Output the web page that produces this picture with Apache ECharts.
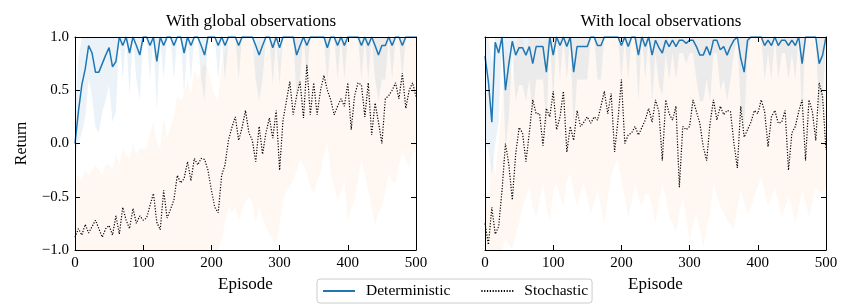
<!DOCTYPE html>
<html><head><meta charset="utf-8">
<script src="https://cdn.jsdelivr.net/npm/echarts@6/dist/echarts.min.js"></script>
<style>html,body{margin:0;padding:0;background:#fff}#c{width:852px;height:308px}</style>
</head><body><div id="c"></div>
<script>
// ---- data ----
const EPISODES = Array.from({length: 101}, (_, i) => i * 5);
const X_TICKS = [0, 100, 200, 300, 400, 500];
const X_TICK_LABELS = ['0', '100', '200', '300', '400', '500'];
const Y_TICKS = [-1, -0.5, 0, 0.5, 1];
const Y_TICK_LABELS = ['\u22121.0', '\u22120.5', '0.0', '0.5', '1.0'];
const TITLES = ['With global observations', 'With local observations'];
const SERIES_NAMES = ['Deterministic', 'Stochastic'];

// Left panel (global observations)
const GLOBAL_DET = [
  0.0, 0.3, 0.55, 0.7, 0.92, 0.85, 0.67, 0.67, 0.75, 0.83, 0.9, 0.72, 0.77, 1.0, 0.92, 1.0, 0.85, 1.0, 0.92, 0.83,
  1.0, 1.0, 0.92, 1.0, 0.77, 1.0, 0.92, 1.0, 1.0, 0.92, 1.0, 1.0, 0.85, 1.0, 0.92, 1.0, 1.0, 0.92, 0.83, 1.0,
  1.0, 1.0, 0.92, 1.0, 0.92, 1.0, 1.0, 1.0, 0.92, 1.0, 1.0, 1.0, 1.0, 0.92, 0.83, 0.92, 1.0, 1.0, 0.9, 1.0,
  0.9, 1.0, 1.0, 1.0, 1.0, 0.83, 0.92, 1.0, 0.92, 1.0, 1.0, 1.0, 1.0, 1.0, 0.9, 1.0, 1.0, 0.92, 1.0, 0.92,
  1.0, 1.0, 1.0, 1.0, 0.92, 1.0, 0.92, 1.0, 0.92, 0.83, 0.92, 0.92, 1.0, 0.92, 1.0, 1.0, 0.92, 1.0, 1.0, 1.0, 1.0
];
const GLOBAL_DET_LO = [
  -0.1, 0.0, 0.1, 0.25, 0.6, 0.45, 0.15, 0.1, 0.3, 0.4, 0.55, 0.2, 0.3, 1, 0.6, 1, 0.45, 1, 0.6, 0.4,
  1, 1, 0.6, 1, 0.3, 1, 0.6, 1, 1, 0.6, 1, 1, 0.45, 1, 0.6, 1, 1, 0.6, 0.4, 1,
  1, 1, 0.6, 1, 0.6, 1, 1, 1, 0.6, 1, 1, 1, 1, 0.6, 0.4, 0.6, 1, 1, 0.55, 1,
  0.55, 1, 1, 1, 1, 0.4, 0.6, 1, 0.6, 1, 1, 1, 1, 1, 0.55, 1, 1, 0.6, 1, 0.6,
  1, 1, 1, 1, 0.6, 1, 0.6, 1, 0.6, 0.4, 0.6, 0.6, 1, 0.6, 1, 1, 0.6, 1, 1, 1, 1
];
const GLOBAL_DET_HI = [
  0.3, 0.8, 1, 1, 1, 1, 1, 1, 1, 1, 1, 1, 1, 1, 1, 1, 1, 1, 1, 1,
  1, 1, 1, 1, 1, 1, 1, 1, 1, 1, 1, 1, 1, 1, 1, 1, 1, 1, 1, 1,
  1, 1, 1, 1, 1, 1, 1, 1, 1, 1, 1, 1, 1, 1, 1, 1, 1, 1, 1, 1,
  1, 1, 1, 1, 1, 1, 1, 1, 1, 1, 1, 1, 1, 1, 1, 1, 1, 1, 1, 1,
  1, 1, 1, 1, 1, 1, 1, 1, 1, 1, 1, 1, 1, 1, 1, 1, 1, 1, 1, 1, 1
];
const GLOBAL_STO = [
  -0.88, -0.8, -0.86, -0.76, -0.84, -0.78, -0.72, -0.8, -0.88, -0.8, -0.77, -0.86, -0.68, -0.85, -0.6, -0.72, -0.8, -0.61, -0.75, -0.68,
  -0.72, -0.7, -0.58, -0.47, -0.74, -0.81, -0.44, -0.7, -0.62, -0.53, -0.3, -0.37, -0.33, -0.17, -0.35, -0.14, -0.2, -0.14, -0.15, -0.25,
  -0.44, -0.6, -0.65, -0.3, -0.2, 0.03, 0.15, 0.25, 0.03, 0.15, 0.31, 0.1, 0.03, -0.17, 0.16, -0.1, 0.1, 0.24, 0.05, 0.31,
  -0.25, 0.22, 0.4, 0.58, 0.27, 0.45, 0.58, 0.24, 0.74, 0.27, 0.57, 0.27, 0.5, 0.64, 0.5, 0.41, 0.27, 0.35, 0.42, 0.35,
  0.57, 0.13, 0.45, 0.57, 0.55, 0.25, 0.57, 0.08, 0.38, 0.2, 0.0, 0.42, 0.45, 0.5, 0.57, 0.42, 0.66, 0.33, 0.5, 0.57, 0.44
];
const GLOBAL_STO_LO = [
  -1, -1, -1, -1, -1, -1, -1, -1, -1, -1, -1, -1, -1, -1, -1, -1, -1, -1, -1, -1,
  -1, -1, -1, -1, -1, -1, -1, -1, -1, -1, -1, -1, -1, -1, -1, -1, -1, -1, -1, -1,
  -1, -1, -1, -0.9, -0.75, -0.59, -0.65, -0.6, -0.72, -0.62, -0.55, -0.5, -0.55, -0.75, -0.59, -0.7, -0.78, -0.85, -0.9, -0.97,
  -0.75, -0.53, -0.45, -0.4, -0.34, -0.25, -0.15, -0.2, -0.28, -0.4, -0.47, -0.35, -0.28, -0.1, 0.0, -0.28, -0.4, -0.53, -0.45, -0.34,
  -0.72, -0.6, -0.53, -0.35, -0.15, -0.3, -0.44, -0.6, -0.78, -0.65, -0.59, -0.45, -0.28, -0.35, -0.37, -0.2, -0.09, -0.15, -0.22, -0.1, -0.06
];
const GLOBAL_STO_HI = [
  -0.35, -0.3, -0.35, -0.25, -0.3, -0.25, -0.2, -0.25, -0.3, -0.2, -0.2, -0.25, -0.1, -0.2, -0.05, -0.1, -0.15, 0.0, -0.1, -0.05,
  -0.05, -0.05, 0.1, 0.2, 0.0, -0.05, 0.25, 0.05, 0.15, 0.25, 0.45, 0.4, 0.45, 0.6, 0.45, 0.7, 0.6, 0.7, 0.75, 0.7,
  0.55, 0.45, 0.4, 0.75, 0.85, 1, 1, 1, 0.95, 1, 1, 1, 0.95, 0.8, 1, 0.85, 1, 1, 0.95, 1,
  0.8, 1, 1, 1, 1, 1, 1, 1, 1, 1, 1, 1, 1, 1, 1, 1, 1, 1, 1, 1,
  1, 1, 1, 1, 1, 1, 1, 1, 1, 1, 1, 1, 1, 1, 1, 1, 1, 1, 1, 1, 1
];

// Right panel (local observations)
const LOCAL_DET = [
  0.82, 0.58, 0.2, 0.95, 0.85, 1.0, 0.5, 0.75, 0.96, 0.83, 0.9, 0.9, 0.83, 0.91, 0.75, 0.91, 0.91, 0.91, 0.67, 1.0,
  0.83, 1.0, 0.92, 1.0, 0.91, 1.0, 0.67, 0.91, 0.91, 0.91, 0.91, 1.0, 1.0, 0.92, 0.92, 1.0, 1.0, 1.0, 1.0, 1.0,
  0.92, 1.0, 0.91, 1.0, 1.0, 0.83, 1.0, 0.91, 1.0, 0.83, 0.97, 0.9, 0.85, 0.97, 0.91, 0.97, 0.91, 0.97, 0.97, 0.94,
  0.97, 0.97, 0.91, 0.83, 0.83, 0.91, 0.83, 0.97, 0.97, 0.88, 0.91, 0.83, 0.91, 0.97, 1.0, 0.8, 0.67, 0.97, 1.0, 1.0,
  1.0, 1.0, 0.92, 0.97, 0.92, 1.0, 0.92, 0.97, 0.97, 0.92, 0.97, 0.92, 1.0, 0.75, 1.0, 1.0, 1.0, 1.0, 0.75, 0.83, 1.0
];
const LOCAL_DET_LO = [
  0.0, -0.05, -0.3, 0.0, 0.2, 1, -0.05, 0.25, 0.85, 0.4, 0.55, 0.55, 0.4, 0.6, 0.25, 0.6, 0.6, 0.6, 0.15, 1,
  0.4, 1, 0.6, 1, 0.6, 1, 0.15, 0.6, 0.6, 0.6, 0.6, 1, 1, 0.6, 0.6, 1, 1, 1, 1, 1,
  0.6, 1, 0.6, 1, 1, 0.4, 1, 0.6, 1, 0.4, 0.85, 0.55, 0.45, 0.85, 0.6, 0.85, 0.6, 0.85, 0.85, 0.75,
  0.85, 0.85, 0.6, 0.4, 0.4, 0.6, 0.4, 0.85, 0.85, 0.5, 0.6, 0.4, 0.6, 0.85, 1, 0.35, 0.15, 0.85, 1, 1,
  1, 1, 0.6, 0.85, 0.6, 1, 0.6, 0.85, 0.85, 0.6, 0.85, 0.6, 1, 0.25, 1, 1, 1, 1, 0.25, 0.4, 1
];
const LOCAL_DET_HI = [
  1, 1, 0.75, 1, 1, 1, 1, 1, 1, 1, 1, 1, 1, 1, 1, 1, 1, 1, 1, 1,
  1, 1, 1, 1, 1, 1, 1, 1, 1, 1, 1, 1, 1, 1, 1, 1, 1, 1, 1, 1,
  1, 1, 1, 1, 1, 1, 1, 1, 1, 1, 1, 1, 1, 1, 1, 1, 1, 1, 1, 1,
  1, 1, 1, 1, 1, 1, 1, 1, 1, 1, 1, 1, 1, 1, 1, 1, 1, 1, 1, 1,
  1, 1, 1, 1, 1, 1, 1, 1, 1, 1, 1, 1, 1, 1, 1, 1, 1, 1, 1, 1, 1
];
const LOCAL_STO = [
  -0.75, -0.95, -0.6, -0.85, -0.78, -0.44, 0.0, -0.2, -0.53, -0.1, 0.15, 0.1, -0.17, 0.1, 0.41, 0.28, 0.28, -0.02, 0.33, 0.25,
  0.49, 0.13, 0.25, 0.49, -0.08, 0.16, 0.03, 0.31, 0.16, 0.2, 0.25, 0.19, 0.25, 0.22, 0.35, 0.49, 0.28, 0.47, -0.08, 0.22,
  0.6, 0.0, 0.08, 0.1, 0.16, 0.08, 0.15, 0.22, 0.33, 0.2, 0.41, 0.3, -0.16, 0.41, 0.28, 0.22, 0.35, -0.41, 0.16, 0.13,
  0.16, 0.41, 0.3, 0.19, -0.03, -0.16, 0.19, 0.41, 0.22, 0.35, 0.27, 0.31, 0.3, 0.0, -0.23, 0.35, 0.06, 0.13, 0.2, 0.31,
  0.28, 0.41, 0.3, -0.03, 0.25, 0.31, 0.19, 0.2, 0.31, -0.25, 0.1, 0.16, 0.3, 0.41, -0.16, 0.41, 0.3, 0.03, 0.57, 0.44, -0.06
];
const LOCAL_STO_LO = [
  -1, -1, -1, -1, -1, -1, -0.9, -0.95, -1, -0.85, -0.75, -0.6, -0.5, -0.4, -0.6, -0.69, -0.55, -0.37, -0.6, -0.72,
  -0.45, -0.37, -0.5, -0.59, -0.35, -0.28, -0.45, -0.59, -0.45, -0.37, -0.5, -0.66, -0.55, -0.44, -0.6, -0.75, -0.5, -0.31, -0.2, -0.16,
  -0.35, -0.5, -0.69, -0.55, -0.37, -0.5, -0.59, -0.47, -0.47, -0.6, -0.75, -0.55, -0.37, -0.5, -0.69, -0.75, -0.84, -0.65, -0.5, -0.7,
  -0.91, -0.75, -0.66, -0.8, -0.97, -0.8, -0.66, -0.37, -0.5, -0.59, -0.65, -0.72, -0.76, -0.81, -0.6, -0.44, -0.55, -0.66, -0.6, -0.5,
  -0.4, -0.31, -0.45, -0.59, -0.5, -0.41, -0.55, -0.69, -0.6, -0.5, -0.6, -0.75, -0.6, -0.44, -0.55, -0.69, -0.55, -0.41, -0.45, -0.47, -0.4
];
const LOCAL_STO_HI = [
  -0.4, -0.6, -0.1, -0.3, 0.0, 0.4, 0.9, 0.8, 0.6, 0.9, 1, 1, 0.85, 1, 1, 1, 1, 0.95, 1, 1,
  1, 1, 1, 1, 1, 1, 1, 1, 1, 1, 1, 1, 1, 1, 1, 1, 1, 1, 1, 1,
  1, 1, 1, 1, 1, 1, 1, 1, 1, 1, 1, 1, 1, 1, 1, 1, 1, 1, 1, 1,
  1, 1, 1, 1, 1, 1, 1, 1, 1, 1, 1, 1, 1, 1, 1, 1, 1, 1, 1, 1,
  1, 1, 1, 1, 1, 1, 1, 1, 1, 1, 1, 1, 1, 1, 1, 1, 1, 1, 1, 1, 1
];

// ---- chart ----
const FONT = 'Liberation Serif';
const BLUE = '#1f77b4';
const BLUE_BAND = 'rgba(31,119,180,0.09)';
const ORANGE_BAND = 'rgba(255,127,14,0.06)';

const chart = echarts.init(document.getElementById('c'), null, {renderer: 'canvas'});

const tick = {show: true, inside: true, length: 5, lineStyle: {color: '#000', width: 1}};
const axLine = {show: true, onZero: false, lineStyle: {color: '#000', width: 1}};

function xAx(grid, pos, showLabel) {
  return {
    type: 'value', gridIndex: grid, position: pos, min: 0, max: 500, interval: 100,
    axisLine: axLine, axisTick: tick, splitLine: {show: false},
    axisLabel: {show: showLabel, color: '#000', fontFamily: FONT, fontSize: 15, margin: 6,
      formatter: v => { const k = X_TICKS.indexOf(v); return k >= 0 ? X_TICK_LABELS[k] : ''; }},
    name: showLabel ? 'Episode' : '', nameLocation: 'middle', nameGap: 26,
    nameTextStyle: {color: '#000', fontFamily: FONT, fontSize: 17},
    z: 5
  };
}
function yAx(grid, pos, showLabel, name) {
  return {
    type: 'value', gridIndex: grid, position: pos, min: -1, max: 1, interval: 0.5,
    axisLine: axLine, axisTick: tick, splitLine: {show: false},
    axisLabel: {show: showLabel, color: '#000', fontFamily: FONT, fontSize: 15, margin: 6,
      formatter: v => { const k = Y_TICKS.findIndex(t => Math.abs(t - v) < 1e-9); return k >= 0 ? Y_TICK_LABELS[k] : ''; }},
    name: name || '', nameLocation: 'middle', nameGap: 45, nameRotate: 90,
    nameTextStyle: {color: '#000', fontFamily: FONT, fontSize: 16},
    z: 5
  };
}

function band(axIdx, lo, hi, color, z) {
  return {
    type: 'custom', xAxisIndex: axIdx, yAxisIndex: axIdx, silent: true, clip: true, z: z,
    data: EPISODES.map((x, i) => [x, lo[i], hi[i]]),
    encode: {x: 0, y: [1, 2]},
    renderItem: function (params, api) {
      if (params.dataIndex !== 0) return null;
      const pts = [];
      for (let i = 0; i < EPISODES.length; i++) pts.push(api.coord([EPISODES[i], hi[i]]));
      for (let i = EPISODES.length - 1; i >= 0; i--) pts.push(api.coord([EPISODES[i], lo[i]]));
      return {type: 'polygon', shape: {points: pts}, style: {fill: color, stroke: null}};
    }
  };
}
function detLine(axIdx, vals) {
  return {
    name: SERIES_NAMES[0], type: 'line', xAxisIndex: axIdx, yAxisIndex: axIdx,
    data: EPISODES.map((x, i) => [x, vals[i]]), symbol: 'none', z: 4,
    lineStyle: {color: BLUE, width: 1.5}, itemStyle: {color: BLUE}, animation: false
  };
}
function stoLine(axIdx, vals) {
  return {
    name: SERIES_NAMES[1], type: 'line', xAxisIndex: axIdx, yAxisIndex: axIdx,
    data: EPISODES.map((x, i) => [x, vals[i]]), symbol: 'none', z: 3,
    lineStyle: {color: '#000', width: 1.2, type: [1.2, 1.6]}, itemStyle: {color: '#000'}, animation: false
  };
}

const option = {
  animation: false,
  backgroundColor: '#fff',
  title: [
    {text: TITLES[0], left: 246, top: 8, textAlign: 'center',
      textStyle: {fontFamily: FONT, fontSize: 17, fontWeight: 'normal', color: '#000'}},
    {text: TITLES[1], left: 656, top: 8, textAlign: 'center',
      textStyle: {fontFamily: FONT, fontSize: 17, fontWeight: 'normal', color: '#000'}}
  ],
  legend: {
    data: SERIES_NAMES, left: 317, top: 279, orient: 'horizontal',
    itemWidth: 32, itemHeight: 12, itemGap: 30,
    padding: [4, 4, 4, 5],
    itemStyle: {opacity: 0},
    borderColor: '#cccccc', borderWidth: 1, borderRadius: 3,
    textStyle: {fontFamily: FONT, fontSize: 15.5, color: '#000', padding: [0, 0, 0, 6]}
  },
  grid: [
    {left: 75, top: 37, width: 341, height: 213, show: false},
    {left: 485, top: 37, width: 341, height: 213, show: false}
  ],
  xAxis: [xAx(0, 'bottom', true), xAx(0, 'top', false), xAx(1, 'bottom', true), xAx(1, 'top', false)],
  yAxis: [yAx(0, 'left', true, 'Return'), yAx(0, 'right', false), yAx(1, 'left', false), yAx(1, 'right', false)],
  series: [
    band(0, GLOBAL_STO_LO, GLOBAL_STO_HI, ORANGE_BAND, 1),
    band(0, GLOBAL_DET_LO, GLOBAL_DET_HI, BLUE_BAND, 2),
    stoLine(0, GLOBAL_STO),
    detLine(0, GLOBAL_DET),
    band(2, LOCAL_STO_LO, LOCAL_STO_HI, ORANGE_BAND, 1),
    band(2, LOCAL_DET_LO, LOCAL_DET_HI, BLUE_BAND, 2),
    stoLine(2, LOCAL_STO),
    detLine(2, LOCAL_DET)
  ]
};
chart.setOption(option);
</script>
</body></html>
